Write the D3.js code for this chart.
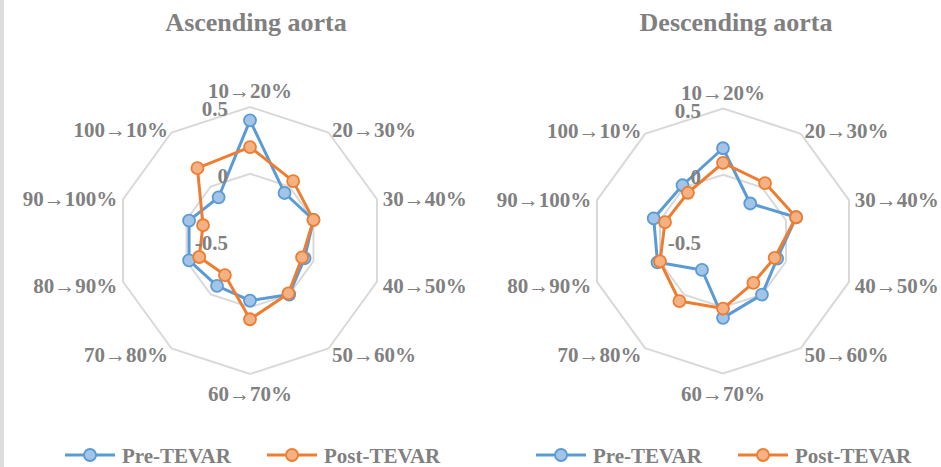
<!DOCTYPE html>
<html>
<head>
<meta charset="utf-8">
<script src="https://cdn.jsdelivr.net/npm/d3@7"></script>
<style>
  body { margin: 0; background: #fff; }
  svg { display: block; }
  text { font-family: "Liberation Serif", "Times New Roman", serif; font-weight: bold; fill: #808080; }
</style>
</head>
<body>
<div id="chart"></div>
<script>
const axes = ['10→20%', '20→30%', '30→40%', '40→50%', '50→60%',
  '60→70%', '70→80%', '80→90%', '90→100%', '100→10%'];
const ticks = [-0.5, 0, 0.5];
const seriesNames = ['Pre-TEVAR', 'Post-TEVAR'];

// Ascending aorta
const ascPre = [0.40, -0.06, 0.00, -0.07, 0.00, -0.05, -0.08, -0.02, -0.02, -0.10];
const ascPost = [0.20, 0.05, 0.00, -0.09, -0.01, 0.09, -0.18, -0.10, -0.13, 0.17];
// Descending aorta
const descPre = [0.20, -0.15, 0.08, -0.07, 0.00, 0.08, -0.23, 0.02, 0.05, 0.02];
const descPost = [0.09, 0.04, 0.08, -0.09, -0.11, 0.01, 0.06, 0.00, -0.04, -0.05];

const colors = ['#5b9bd5', '#ed7d31'];
const fills = ['#a2c4e6', '#f4b183'];

const width = 941, height = 467;

const svg = d3.select('#chart')
  .append('svg')
  .attr('width', width)
  .attr('height', height);

// thin grey strip on the left edge
svg.append('rect')
  .attr('x', 0).attr('y', 0)
  .attr('width', 4).attr('height', height)
  .attr('fill', '#dcdcdc');

const charts = [
  { title: 'Ascending aorta', cx: 250, cy: 240.5, r: 133.5, tx: 256, series: [ascPre, ascPost], legendX: 65 },
  { title: 'Descending aorta', cx: 723, cy: 241, r: 132.5, tx: 736, series: [descPre, descPost], legendX: 536 }
];

charts.forEach(function (c) {
  const g = svg.append('g');

  const rScale = d3.scaleLinear()
    .domain([-0.5, 0.5])
    .range([0, c.r]);

  const angle = d3.scaleLinear()
    .domain([0, axes.length])
    .range([0, 2 * Math.PI]);

  const radial = d3.lineRadial()
    .angle(function (d, i) { return angle(i); })
    .radius(function (d) { return rScale(d); })
    .curve(d3.curveLinearClosed);

  const plot = g.append('g')
    .attr('transform', 'translate(' + c.cx + ',' + c.cy + ')');

  // grid rings (skip center)
  ticks.filter(function (t) { return t > -0.5; }).forEach(function (t) {
    plot.append('path')
      .attr('d', radial(axes.map(function () { return t; })))
      .attr('fill', 'none')
      .attr('stroke', '#d9d9d9')
      .attr('stroke-width', 2);
  });

  // series
  c.series.forEach(function (vals, s) {
    plot.append('path')
      .attr('d', radial(vals))
      .attr('fill', 'none')
      .attr('stroke', colors[s])
      .attr('stroke-width', 3)
      .attr('stroke-linejoin', 'round');

    plot.selectAll('circle.s' + s)
      .data(vals)
      .enter()
      .append('circle')
      .attr('class', 's' + s)
      .attr('cx', function (d, i) { return rScale(d) * Math.sin(angle(i)); })
      .attr('cy', function (d, i) { return -rScale(d) * Math.cos(angle(i)); })
      .attr('r', 6)
      .attr('fill', fills[s])
      .attr('stroke', colors[s])
      .attr('stroke-width', 1.8);
  });

  // tick labels
  plot.selectAll('text.tick')
    .data(ticks)
    .enter()
    .append('text')
    .attr('class', 'tick')
    .attr('x', -22)
    .attr('y', function (d) { return -rScale(d) + 2; })
    .attr('text-anchor', 'end')
    .attr('dominant-baseline', 'central')
    .attr('font-size', '21px')
    .text(function (d) { return d; });

  // axis labels
  plot.selectAll('text.axis')
    .data(axes)
    .enter()
    .append('text')
    .attr('class', 'axis')
    .attr('x', function (d, i) {
      return (c.r + 6) * Math.sin(angle(i));
    })
    .attr('y', function (d, i) {
      const co = Math.cos(angle(i));
      const pad = Math.abs(co) > 0.99 ? 18 : 6;
      return -(c.r + pad) * co + 2;
    })
    .attr('text-anchor', function (d, i) {
      const sn = Math.sin(angle(i));
      return sn > 0.1 ? 'start' : (sn < -0.1 ? 'end' : 'middle');
    })
    .attr('dominant-baseline', 'central')
    .attr('font-size', '21px')
    .text(function (d) { return d; });

  // title
  g.append('text')
    .attr('x', c.tx)
    .attr('y', 22)
    .attr('text-anchor', 'middle')
    .attr('dominant-baseline', 'central')
    .attr('font-size', '26px')
    .text(c.title);

  // legend
  const leg = g.append('g')
    .attr('transform', 'translate(' + c.legendX + ',455)');
  const offsets = [0, 202];
  seriesNames.forEach(function (name, s) {
    const item = leg.append('g')
      .attr('transform', 'translate(' + offsets[s] + ',0)');
    item.append('line')
      .attr('x1', 0).attr('x2', 50)
      .attr('y1', 0).attr('y2', 0)
      .attr('stroke', colors[s])
      .attr('stroke-width', 3);
    item.append('circle')
      .attr('cx', 25).attr('cy', 0)
      .attr('r', 6)
      .attr('fill', fills[s])
      .attr('stroke', colors[s])
      .attr('stroke-width', 1.8);
    item.append('text')
      .attr('x', 57)
      .attr('y', 1)
      .attr('dominant-baseline', 'central')
      .attr('font-size', '21px')
      .text(name);
  });
});
</script>
</body>
</html>
